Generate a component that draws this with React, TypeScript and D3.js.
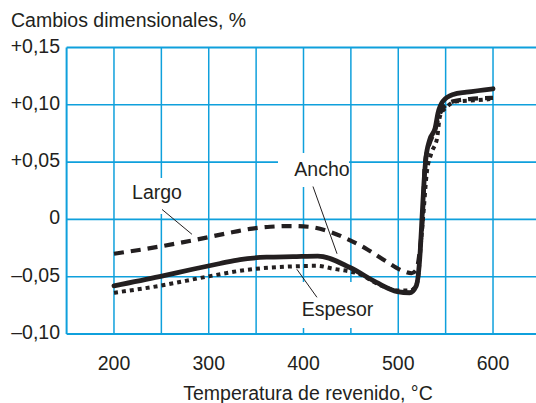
import { useEffect, useRef } from "react";
import * as d3 from "d3";

// Temperatura de revenido (°C) / cambios dimensionales (%)
const largoT = [200, 246, 285, 326, 346, 365, 386, 405, 425, 446, 467, 488, 505, 514, 519, 523, 526, 528, 533, 539, 543, 548, 558, 575, 600];
const largoV = [-0.030, -0.024, -0.018, -0.011, -0.008, -0.0064, -0.0058, -0.0064, -0.010, -0.017, -0.026, -0.037, -0.045, -0.047, -0.044, -0.025, 0.005, 0.048, 0.066, 0.078, 0.090, 0.098, 0.103, 0.105, 0.106];

const anchoT = [200, 248, 283, 312, 333, 361, 389, 415, 449, 477, 499, 512, 519, 523, 525, 527, 529, 533, 539, 542, 547, 558, 572, 600];
const anchoV = [-0.058, -0.050, -0.0435, -0.0385, -0.035, -0.033, -0.0325, -0.032, -0.042, -0.055, -0.063, -0.064, -0.058, -0.030, 0.000, 0.030, 0.052, 0.069, 0.080, 0.093, 0.103, 0.109, 0.111, 0.114];

const espesorT = [200, 248, 298, 340, 389, 414, 431, 460, 480, 500, 513, 520, 524, 527, 530, 535, 541, 544, 551, 562, 583, 597];
const espesorV = [-0.064, -0.058, -0.050, -0.044, -0.041, -0.0405, -0.043, -0.048, -0.057, -0.062, -0.062, -0.055, -0.020, 0.010, 0.040, 0.058, 0.071, 0.090, 0.098, 0.103, 0.104, 0.105];

const xTicks = [200, 300, 400, 500, 600];
const xGrid = [150, 200, 250, 300, 350, 400, 450, 500, 550, 600, 650];
const yTicks = [-0.1, -0.05, 0, 0.05, 0.1, 0.15];
const yTickLabels = ["–0,10", "–0,05", "0", "+0,05", "+0,10", "+0,15"];

const W = 536;
const H = 403;
const BLUE = "#0fa0dc";
const INK = "#231f20";
const FONT = "'Liberation Sans', Arial, Helvetica, sans-serif";
const FS = "19.5px";

export default function App() {
  const ref = useRef<SVGSVGElement>(null);

  useEffect(() => {
    if (!ref.current) return;
    const svg = d3.select(ref.current);
    svg.selectAll("*").remove();

    const x = d3.scaleLinear().domain([150, 650]).range([66.6, 540.4]);
    const y = d3.scaleLinear().domain([-0.1, 0.15]).range([334, 47.5]);

    const grid = svg.append("g");
    grid.selectAll("line.v")
      .data(xGrid)
      .enter()
      .append("line")
      .attr("x1", (d) => x(d))
      .attr("x2", (d) => x(d))
      .attr("y1", y(0.15))
      .attr("y2", y(-0.1))
      .style("stroke", BLUE)
      .style("stroke-width", (d) => (d === 150 ? 2 : 1.5));
    grid.selectAll("line.h")
      .data(yTicks)
      .enter()
      .append("line")
      .attr("x1", x(150))
      .attr("x2", x(650))
      .attr("y1", (d) => y(d))
      .attr("y2", (d) => y(d))
      .style("stroke", BLUE)
      .style("stroke-width", (d) => (d === 0.15 || d === -0.1 ? 2 : 1.6));

    // white boxes behind labels (break the grid)
    const boxes = [
      { x0: 128, x1: 196, y0: 178, y1: 214 },
      { x0: 278, x1: 349, y0: 153, y1: 187 },
      { x0: 290, x1: 376, y0: 282, y1: 328 },
    ];
    svg.selectAll("rect.box")
      .data(boxes)
      .enter()
      .append("rect")
      .attr("x", (d) => d.x0)
      .attr("y", (d) => d.y0)
      .attr("width", (d) => d.x1 - d.x0)
      .attr("height", (d) => d.y1 - d.y0)
      .style("fill", "#fff");

    const line = (ts: number[], vs: number[]) =>
      d3.line<number>()
        .x((d) => x(d))
        .y((_, i) => y(vs[i]))
        .curve(d3.curveMonotoneX)(ts);

    svg.append("path")
      .attr("d", line(espesorT, espesorV))
      .style("fill", "none")
      .style("stroke", INK)
      .style("stroke-width", 4)
      .style("stroke-dasharray", "4 4");

    svg.append("path")
      .attr("d", line(largoT, largoV))
      .style("fill", "none")
      .style("stroke", INK)
      .style("stroke-width", 4.2)
      .style("stroke-dasharray", "10 7");

    svg.append("path")
      .attr("d", line(anchoT, anchoV))
      .style("fill", "none")
      .style("stroke", INK)
      .style("stroke-width", 4.8)
      .style("stroke-linecap", "round");

    // leader lines (data coords)
    const leaders = [
      [250.7, 0.0087, 282.3, -0.013],
      [410, 0.0287, 435.4, -0.03],
      [393, -0.0435, 414.2, -0.068],
    ];
    svg.selectAll("line.lead")
      .data(leaders)
      .enter()
      .append("line")
      .attr("x1", (d) => x(d[0]))
      .attr("y1", (d) => y(d[1]))
      .attr("x2", (d) => x(d[2]))
      .attr("y2", (d) => y(d[3]))
      .style("stroke", INK)
      .style("stroke-width", 1);

    const labels = [
      { t: "Largo", x: 157, y: 199 },
      { t: "Ancho", x: 322, y: 176 },
      { t: "Espesor", x: 337.5, y: 316 },
    ];
    svg.selectAll("text.lab")
      .data(labels)
      .enter()
      .append("text")
      .attr("x", (d) => d.x)
      .attr("y", (d) => d.y)
      .attr("text-anchor", "middle")
      .style("font-family", FONT)
      .style("font-size", FS)
      .style("fill", INK)
      .text((d) => d.t);

    // y tick labels
    svg.selectAll("text.yt")
      .data(yTicks)
      .enter()
      .append("text")
      .attr("x", 60)
      .attr("y", (d) => y(d) + 5)
      .attr("text-anchor", "end")
      .style("font-family", FONT)
      .style("font-size", FS)
      .style("fill", INK)
      .text((_, i) => yTickLabels[i]);

    // x tick labels
    svg.selectAll("text.xt")
      .data(xTicks)
      .enter()
      .append("text")
      .attr("x", (d) => x(d))
      .attr("y", 369.5)
      .attr("text-anchor", "middle")
      .style("font-family", FONT)
      .style("font-size", FS)
      .style("fill", INK)
      .text((d) => String(d));

    svg.append("text")
      .attr("x", 11)
      .attr("y", 27)
      .style("font-family", FONT)
      .style("font-size", FS)
      .style("fill", INK)
      .text("Cambios dimensionales, %");

    svg.append("text")
      .attr("x", 308)
      .attr("y", 399.5)
      .attr("text-anchor", "middle")
      .style("font-family", FONT)
      .style("font-size", FS)
      .style("fill", INK)
      .text("Temperatura de revenido, °C");
  }, []);

  return (
    <svg
      ref={ref}
      width={W}
      height={H}
      style={{ position: "absolute", left: 0, top: 0, background: "#fff" }}
    />
  );
}
